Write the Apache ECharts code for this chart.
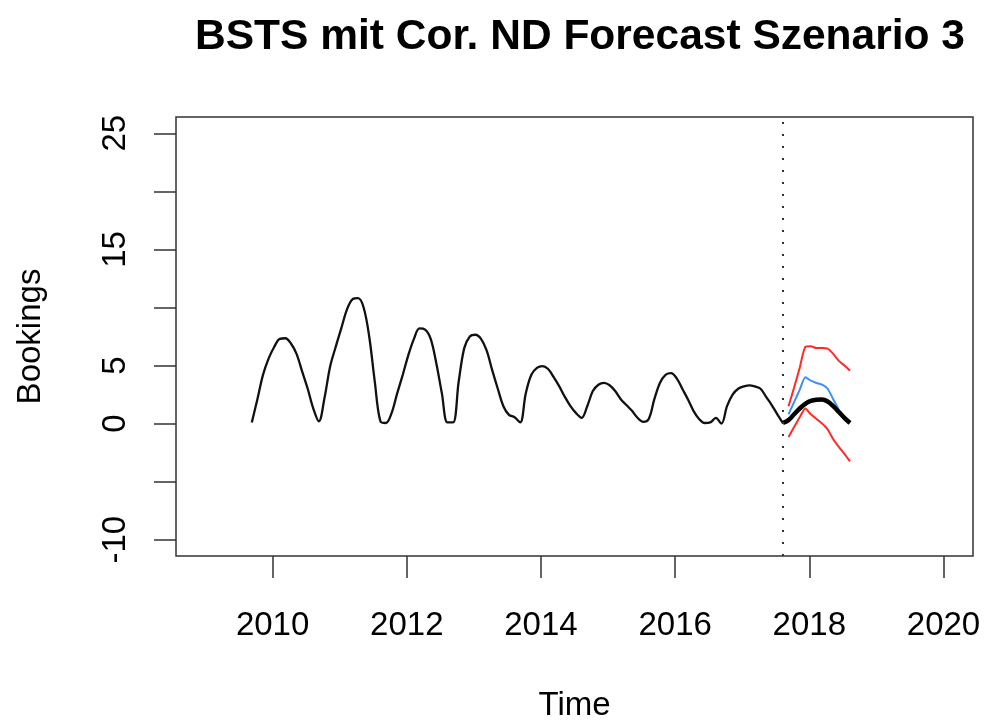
<!DOCTYPE html>
<html>
<head>
<meta charset="utf-8">
<title>BSTS mit Cor. ND Forecast Szenario 3</title>
<script src="https://cdn.jsdelivr.net/npm/echarts@6/dist/echarts.min.js"></script>
<style>
  html, body { margin: 0; padding: 0; background: #fff; }
  #chart { width: 989px; height: 727px; }
</style>
</head>
<body>
<div id="chart"></div>
<script>
// Monthly bookings series (first month ≈ 2009.69, step 1/12 year)
const historyStart = 2009.69;
const step = 1 / 12;
const history = [
  0.1, 2.1, 4.2, 5.6, 6.6, 7.3, 7.35, 6.9, 6.0, 4.5, 3.0, 1.3,
  0.2, 2.2, 4.9, 6.6, 8.2, 9.8, 10.7, 10.8, 10.0, 7.5, 3.6, 0.2,
  0.05, 0.9, 2.6, 4.2, 5.9, 7.3, 8.2, 8.1, 7.3, 5.2, 2.6, 0.1,
  0.1, 3.6, 6.5, 7.5, 7.65, 7.3, 6.3, 4.6, 3.0, 1.5, 0.75, 0.55,
  0.1, 2.6, 4.2, 4.8, 4.95, 4.7, 4.0, 3.2, 2.3, 1.5, 0.9, 0.5,
  1.5, 2.8, 3.35, 3.5, 3.3, 2.8, 2.1, 1.6, 1.1, 0.5, 0.15, 0.4,
  2.1, 3.5, 4.2, 4.35, 3.9, 3.0, 2.1, 1.1, 0.4, 0.05, 0.1, 0.5,
  0.0, 1.5, 2.5, 3.0, 3.2, 3.3, 3.2, 3.0, 2.3, 1.6, 0.8, 0.05
];

// 12-month forecast following the last observation
const forecastMean  = [0.3, 0.8, 1.3, 1.7, 1.95, 2.05, 2.07, 1.9, 1.5, 1.0, 0.5, 0.05];
const forecastBlue  = [0.8, 1.85, 2.9, 4.0, 3.7, 3.5, 3.35, 3.0, 2.1, 1.2, 0.55, 0.1];
const forecastUpper = [1.5, 3.1, 4.8, 6.6, 6.65, 6.5, 6.5, 6.45, 6.0, 5.4, 5.0, 4.55];
const forecastLower = [-1.15, -0.3, 0.55, 1.3, 0.8, 0.4, 0.0, -0.5, -1.35, -2.0, -2.6, -3.25];

const xTicks = [2010, 2012, 2014, 2016, 2018, 2020];
const yTicks = [-10, -5, 0, 5, 10, 15, 20, 25];
const yLabels = [-10, 0, 5, 15, 25];

const lastObs = historyStart + (history.length - 1) * step;
const histData = history.map((v, i) => [historyStart + i * step, v]);
const fcTime = i => historyStart + (history.length + i) * step;
const toPairs = arr => arr.map((v, i) => [fcTime(i), v]);
const meanData = [[lastObs, history[history.length - 1]]].concat(toPairs(forecastMean));

const FONT = 'Liberation Sans, Arial, Helvetica, sans-serif';

const chart = echarts.init(document.getElementById('chart'), null, { renderer: 'canvas' });
chart.setOption({
  animation: false,
  backgroundColor: '#ffffff',
  title: {
    text: 'BSTS mit Cor. ND Forecast Szenario 3',
    left: 575,
    textAlign: 'center',
    top: 11,
    textStyle: { fontFamily: FONT, fontWeight: 'bold', fontSize: 42.5, color: '#000' }
  },
  grid: {
    left: 176, right: 16, top: 117, bottom: 171,
    show: true, borderColor: '#333', borderWidth: 1.5, backgroundColor: 'transparent'
  },
  xAxis: {
    type: 'value',
    min: 2008.56, max: 2020.44,
    name: 'Time',
    nameLocation: 'middle',
    nameGap: 133,
    nameTextStyle: { fontFamily: FONT, fontSize: 33, color: '#000' },
    axisLine: { show: false, onZero: false },
    splitLine: { show: false },
    axisTick: { show: true, length: 22, customValues: xTicks, lineStyle: { color: '#333', width: 1.5 } },
    axisLabel: {
      customValues: xTicks, fontFamily: FONT, fontSize: 33, color: '#000', margin: 53,
      formatter: v => String(v)
    }
  },
  yAxis: {
    type: 'value',
    min: -11.4, max: 26.4,
    name: 'Bookings',
    nameLocation: 'middle',
    nameGap: 129,
    nameRotate: 90,
    nameTextStyle: { fontFamily: FONT, fontSize: 33, color: '#000' },
    axisLine: { show: false, onZero: false },
    splitLine: { show: false },
    axisTick: { show: true, length: 22, customValues: yTicks, lineStyle: { color: '#333', width: 1.5 } },
    axisLabel: { customValues: yLabels, rotate: 90, fontFamily: FONT, fontSize: 33, color: '#000', margin: 44 }
  },
  series: [
    {
      name: 'Bookings', type: 'line', data: histData, showSymbol: false, smooth: 0.35,
      lineStyle: { color: '#111', width: 2.3 },
      markLine: {
        silent: true, symbol: 'none', label: { show: false },
        lineStyle: { color: '#333', width: 2, type: [2, 10] },
        data: [{ xAxis: lastObs }]
      }
    },
    { name: 'Upper', type: 'line', data: toPairs(forecastUpper), showSymbol: false, smooth: 0.2, lineStyle: { color: '#ff2a2a', width: 2 } },
    { name: 'Lower', type: 'line', data: toPairs(forecastLower), showSymbol: false, smooth: 0.2, lineStyle: { color: '#ff2a2a', width: 2 } },
    { name: 'Alt', type: 'line', data: toPairs(forecastBlue), showSymbol: false, smooth: 0.2, lineStyle: { color: '#3d8ff5', width: 2 } },
    { name: 'Mean', type: 'line', data: meanData, showSymbol: false, smooth: 0.35, lineStyle: { color: '#000', width: 4.5 } }
  ]
});
</script>
</body>
</html>
